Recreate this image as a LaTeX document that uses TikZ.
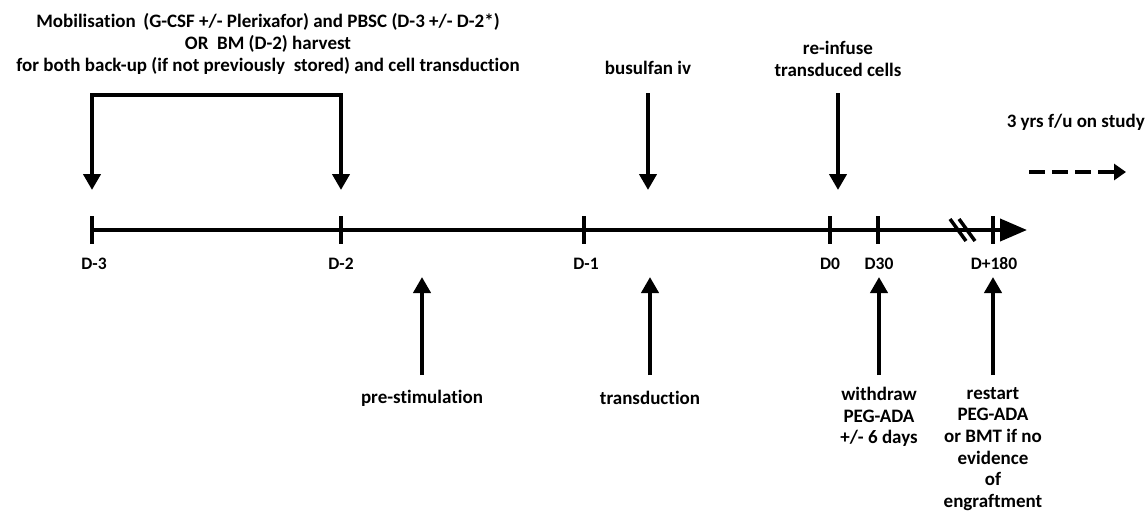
\documentclass[tikz,border=0pt]{standalone}
\usepackage{fontspec}
\setmainfont[Ligatures=NoCommon]{Carlito}
\usetikzlibrary{arrows.meta}
\begin{document}
\begin{tikzpicture}[x=1pt,y=-1pt,
  lbl/.style={font=\bfseries\fontsize{19}{21.7}\selectfont, align=center, inner sep=0pt},
  dlbl/.style={font=\bfseries\fontsize{17.5}{20}\selectfont, inner sep=0pt},
  arr/.style={line width=4pt, -{Triangle[width=17pt,length=16pt]}},
  tick/.style={line width=4pt},
  axis/.style={line width=4pt, -{Triangle[width=22pt,length=27pt]}}]
\useasboundingbox (0,0) rectangle (1147,520);
% timeline
\coordinate (t0) at (92,230);
\coordinate (tend) at (1027,230);
\draw[axis] (t0) -- (tend);
\foreach \n/\x in {m3/92,m2/341,m1/584,d0/830,d30/878,d180/993}{
  \coordinate (k\n) at (\x,230);
  \draw[tick] (\x,216) -- (\x,244);
}
% break mark
\coordinate (b1) at (964,230);
\draw[line width=3.5pt] ([xshift=-14pt,yshift=11pt]b1) -- ([xshift=2pt,yshift=-11pt]b1);
\draw[line width=3.5pt] ([xshift=-5pt,yshift=11pt]b1) -- ([xshift=11pt,yshift=-11pt]b1);
% day labels
\node[dlbl] (lm3) at (94,264) {D-3};
\node[dlbl] (lm2) at (341,264) {D-2};
\node[dlbl] (lm1) at (586,264) {D-1};
\node[dlbl] (ld0) at (830,264) {D0};
\node[dlbl] (ld30) at (879,264) {D30};
\node[dlbl] (ld180) at (994,264) {D+180};
% top text
\node[lbl] (mob) at (268,44) {Mobilisation\, (G-CSF +/- Plerixafor) and PBSC (D-3 +/- D-2*)\\OR~ BM (D-2) harvest\\for both back-up (if not previously~ stored) and cell transduction};
\coordinate (bl) at (92,95);
\coordinate (br) at (341,95);
\coordinate (ablt) at (92,190);
\coordinate (abrt) at (341,190);
\draw[line width=4pt, {Triangle[width=17pt,length=16pt]}-{Triangle[width=17pt,length=16pt]}] (ablt) -- (bl) -- (br) -- (abrt);
% busulfan
\node[lbl] (bus) at (648,68) {busulfan iv};
\coordinate (bus0) at (648,93);
\coordinate (bus1) at (648,190);
\draw[arr] (bus0) -- (bus1);
% reinfuse
\node[lbl] (rei) at (838,59) {re-infuse\\transduced cells};
\coordinate (rei0) at (838,93);
\coordinate (rei1) at (838,190);
\draw[arr] (rei0) -- (rei1);
% follow up
\node[lbl, anchor=east] (fu) at (1145,122) {3 yrs f/u on study};
\coordinate (fu0) at (1029,172);
\coordinate (fu1) at (1126,172);
\draw[line width=4pt, dash pattern=on 16pt off 7pt, -{Triangle[width=16pt,length=12pt]}] (fu0) -- (fu1);
% up arrows
\node[lbl] (pre) at (422,398) {pre-stimulation};
\draw[arr] (422,375) coordinate (pre0) -- (422,277) coordinate (pre1);
\node[lbl] (trn) at (650,398) {transduction};
\draw[arr] (650,375) coordinate (trn0) -- (650,277) coordinate (trn1);
\node[lbl, anchor=north] (wd) at (879,387) {withdraw\\PEG-ADA\\+/- 6 days};
\draw[arr] (879,375) coordinate (wd0) -- (879,277) coordinate (wd1);
\node[lbl, anchor=north] (rs) at (993,387) {restart\\PEG-ADA\\or BMT if no\\evidence\\of\\engraftment};
\draw[arr] (993,375) coordinate (rs0) -- (993,277) coordinate (rs1);
\end{tikzpicture}
\end{document}
